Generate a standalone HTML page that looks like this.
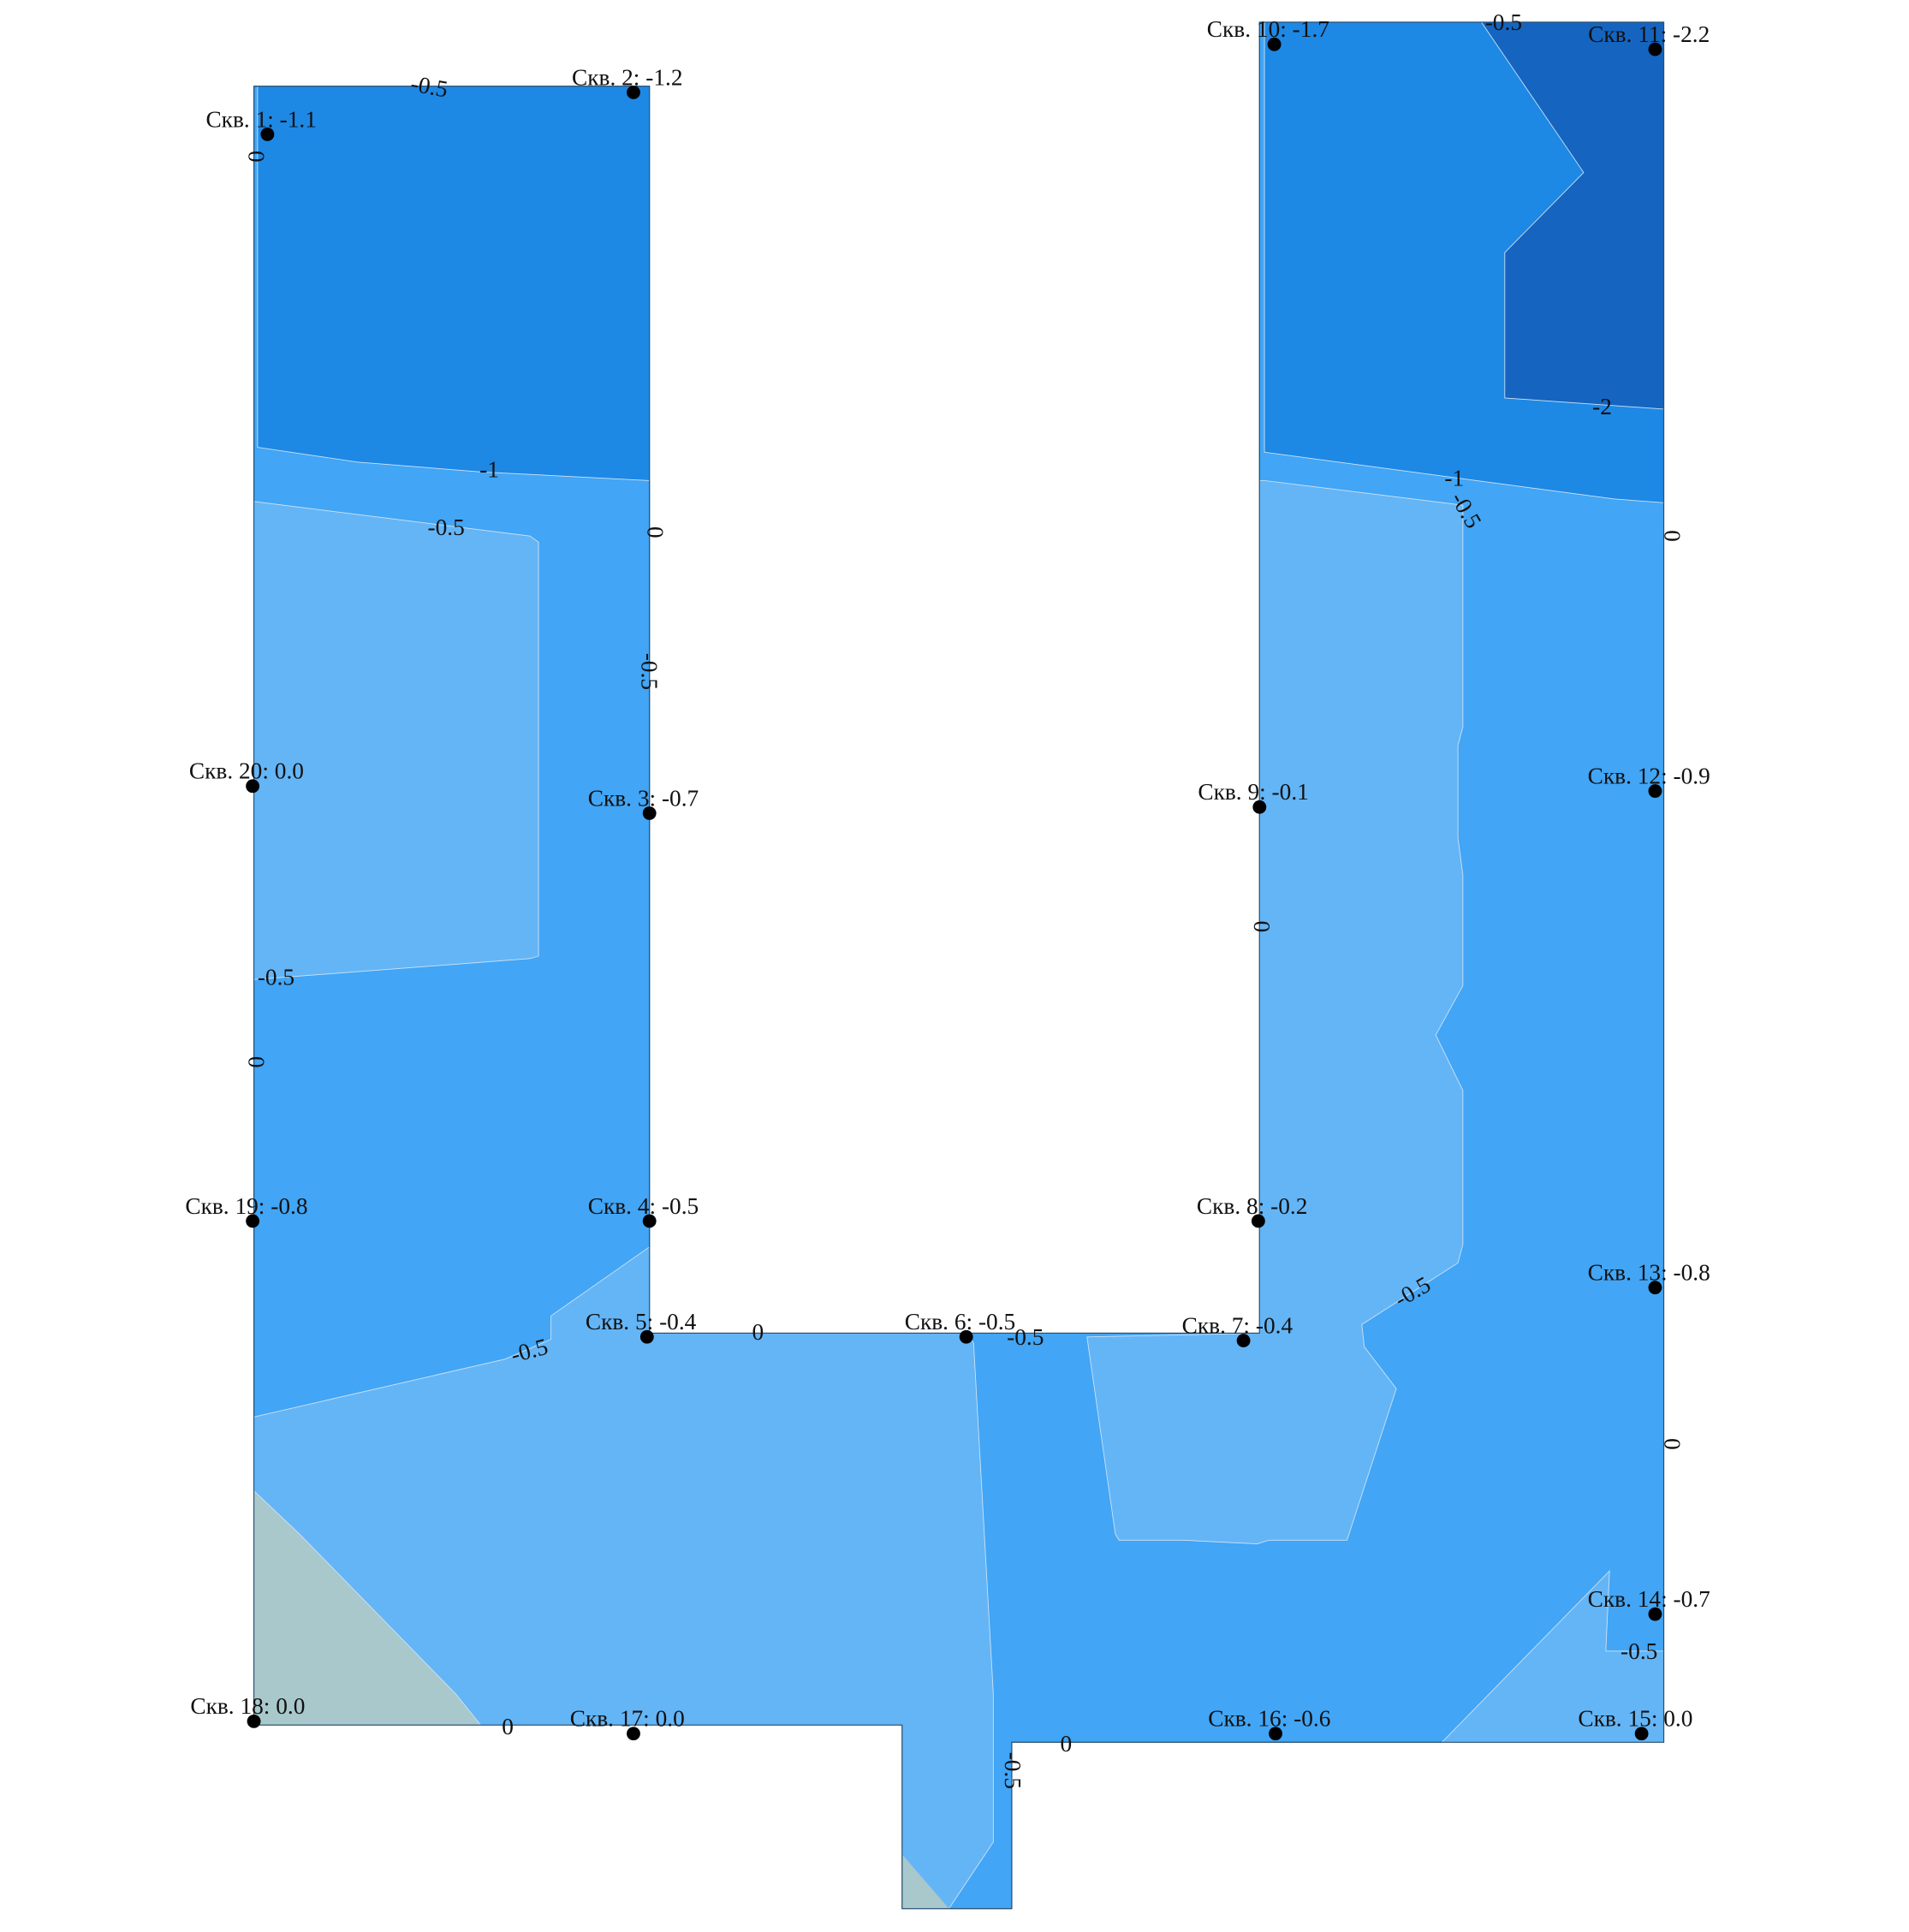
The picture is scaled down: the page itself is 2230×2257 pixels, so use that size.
<!DOCTYPE html>
<html><head><meta charset="utf-8"><style>
html,body{margin:0;padding:0;background:#fff}
svg{display:block}
text{font-family:"Liberation Serif",serif;fill:#111}
</style></head><body>
<svg id="chart" width="2230" height="2257" viewBox="0 0 1549 1568" preserveAspectRatio="none" xmlns="http://www.w3.org/2000/svg">
<g id="fills">
<polygon fill="#42a5f5" stroke="#2a5f8a" stroke-width="0.8" points="206,70 527,70 527,1082 1022,1082 1022,18 1350,18 1350,1414 821,1414 821,1549 732,1549 732,1400 206,1400"/>
<polygon fill="#1e88e5" stroke="#cfe3f5" stroke-width="0.6" points="209,70 527,70 527,390 390,383 290,375 209,363"/>
<polygon fill="#64b5f6" stroke="#cfe3f5" stroke-width="0.6" points="206,407 430,435 437,440 437,776 430,778 206,795"/>
<polygon fill="#64b5f6" stroke="#cfe3f5" stroke-width="0.6" points="206,1150 410,1103 447,1087 447,1068 527,1012 527,1082 785,1082 790,1090 806,1375 806,1495 770,1549 732,1549 732,1400 206,1400"/>
<polygon fill="#a8c8cc" stroke="#cfe3f5" stroke-width="0.6" points="206,1210 243,1245 370,1375 390,1400 206,1400"/>
<polygon fill="#a8c8cc" points="732,1505 770,1549 732,1549"/>
<polygon fill="#1e88e5" stroke="#cfe3f5" stroke-width="0.6" points="1026,18 1350,18 1350,408 1310,405 1026,367"/>
<polygon fill="#1565c0" stroke="#cfe3f5" stroke-width="0.6" points="1202,18 1350,18 1350,332 1221,323 1221,205 1285,140"/>
<polygon fill="#64b5f6" stroke="#cfe3f5" stroke-width="0.6" points="1026,390 1187,410 1187,590 1183,605 1183,680 1187,710 1187,800 1165,840 1187,885 1187,1010 1183,1025 1105,1075 1107,1093 1133,1127 1093,1250 1030,1250 1020,1253 960,1250 908,1250 905,1245 882,1085 1022,1082 1022,390"/>
<polygon fill="#64b5f6" stroke="#cfe3f5" stroke-width="0.6" points="1170,1414 1306,1275 1303,1340 1350,1340 1350,1414"/>
<polyline fill="none" stroke="#2a4f70" stroke-width="0.8" points="206,70 527,70 527,1082 1022,1082 1022,18 1350,18 1350,1414 821,1414 821,1549 732,1549 732,1400 206,1400 206,70"/>
</g>
<g id="clabels" font-size="19"></g>
<g id="wells"></g>
</svg>
<script>
const wellNames=["Скв. 1","Скв. 2","Скв. 3","Скв. 4","Скв. 5","Скв. 6","Скв. 7","Скв. 8","Скв. 9","Скв. 10","Скв. 11","Скв. 12","Скв. 13","Скв. 14","Скв. 15","Скв. 16","Скв. 17","Скв. 18","Скв. 19","Скв. 20"];
const wellValues=[-1.1,-1.2,-0.7,-0.5,-0.4,-0.5,-0.4,-0.2,-0.1,-1.7,-2.2,-0.9,-0.8,-0.7,0.0,-0.6,0.0,0.0,-0.8,0.0];
const wellX=[217,514,527,527,525,784,1009,1021,1022,1034,1343,1343,1343,1343,1332,1035,514,206,205,205];
const wellY=[109,75,660,991,1085,1085,1088,991,655,36,40,642,1045,1310,1407,1407,1407,1397,991,638];
const contourText=["-1","-0.5","0","0","-0.5","-0.5","0","-0.5","0","-0.5","0","-0.5","0","-0.5","-0.5","0","0","0","-2","-1","-0.5","-0.5","-0.5"];
const contourX=[397,362,206,530,525,224,206,430,615,832,412,820,865,1147,1330,1355,1355,1022,1300,1180,1188,1220,348];
const contourY=[383,430,127,432,545,795,862,1098,1083,1087,1403,1437,1417,1050,1342,1172,435,752,332,390,415,20,72];
const contourRot=[0,0,90,90,90,0,90,-15,0,0,0,90,0,-30,0,90,90,90,0,0,60,0,10];
const NS="http://www.w3.org/2000/svg";
const cg=document.getElementById('clabels');
contourText.forEach((t,i)=>{
  const el=document.createElementNS(NS,'text');
  
  
  el.setAttribute('x',contourX[i]);el.setAttribute('y',contourY[i]);
  el.setAttribute('text-anchor','middle');el.setAttribute('dominant-baseline','middle');
  el.setAttribute('transform','rotate('+contourRot[i]+' '+contourX[i]+' '+contourY[i]+')');
  el.textContent=t;cg.appendChild(el);
});
const wg=document.getElementById('wells');
wellNames.forEach((n,i)=>{
  const c=document.createElementNS(NS,'circle');
  
  
  c.setAttribute('cx',wellX[i]);c.setAttribute('cy',wellY[i]);c.setAttribute('r',5.5);c.setAttribute('fill','#000');
  wg.appendChild(c);
  const t=document.createElementNS(NS,'text');
  
  
  t.setAttribute('x',wellX[i]-5);t.setAttribute('y',wellY[i]-6);
  t.setAttribute('text-anchor','middle');t.setAttribute('font-size','19');
  t.textContent=n+': '+wellValues[i].toFixed(1);
  wg.appendChild(t);
});
</script>
</body></html>
